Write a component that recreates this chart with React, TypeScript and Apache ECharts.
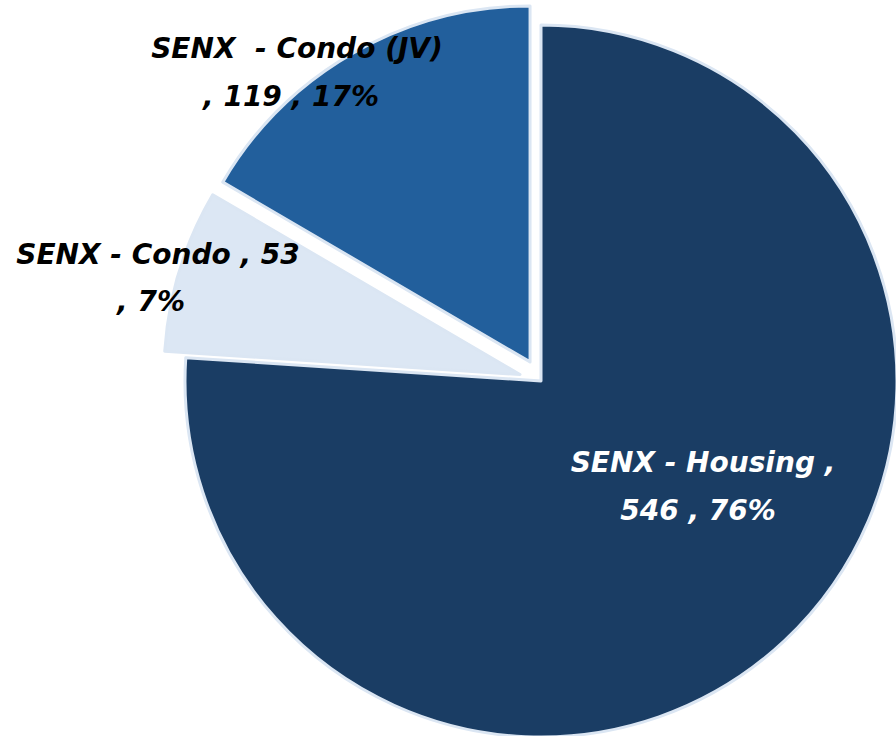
import React, { useEffect, useRef } from "react";
import * as echarts from "echarts";

const categories = ["SENX - Housing", "SENX - Condo", "SENX  - Condo (JV)"];
const values = [546, 53, 119];
const colors = ["#1a3d64", "#dce7f4", "#225f9c"];
const labelColors = ["#ffffff", "#000000", "#000000"];
const exploded = [false, true, true];
// label line centres (layout only): [line1x, line1y, line2x, line2y]
const labelPos = [
  [703, 462, 698, 510],
  [158, 254, 151, 301],
  [297, 48, 291, 96],
];

export default function App() {
  const ref = useRef<HTMLDivElement>(null);
  useEffect(() => {
    if (!ref.current) return;
    const chart = echarts.init(ref.current, undefined, { renderer: "svg" });
    const total = values.reduce((a, b) => a + b, 0);
    const pct = values.map((v) => Math.round((v / total) * 100));
    const lines = [
      [`${categories[0]} ,`, `${values[0]} , ${pct[0]}%`],
      [`${categories[1]} , ${values[1]}`, `, ${pct[1]}%`],
      [`${categories[2]}`, `, ${values[2]} , ${pct[2]}%`],
    ];
    const font = "italic bold 28px 'DejaVu Sans'";
    const graphics: any[] = [];
    lines.forEach((ls, i) => {
      ls.forEach((t, j) => {
        graphics.push({
          type: "text",
          x: labelPos[i][j * 2],
          y: labelPos[i][j * 2 + 1],
          z: 100,
          style: {
            text: t,
            fill: labelColors[i],
            font,
            textAlign: "center",
            textVerticalAlign: "middle",
          },
        });
      });
    });
    chart.setOption({
      animation: false,
      backgroundColor: "#ffffff",
      graphic: graphics,
      series: [
        {
          type: "pie",
          center: [541, 381],
          radius: 356,
          startAngle: 90,
          clockwise: true,
          percentPrecision: 0,
          selectedMode: "multiple",
          selectedOffset: 22,
          emphasis: { disabled: true },
          itemStyle: { borderColor: "#dbe6f3", borderWidth: 3 },
          label: { show: false },
          labelLine: { show: false },
          data: categories.map((name, i) => ({
            name,
            value: values[i],
            selected: exploded[i],
            itemStyle: { color: colors[i] },
          })),
        },
      ],
    });
    return () => chart.dispose();
  }, []);
  return (
    <div
      ref={ref}
      style={{ position: "fixed", left: 0, top: 0, width: 896, height: 736 }}
    />
  );
}
